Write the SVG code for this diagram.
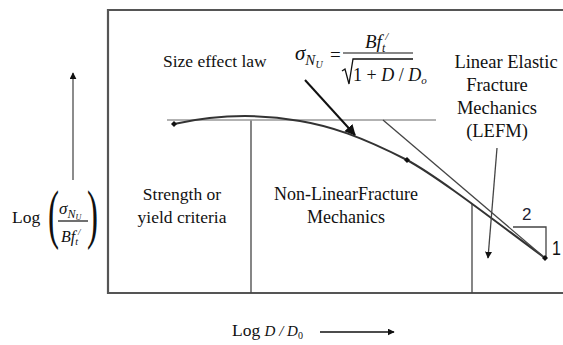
<svg xmlns="http://www.w3.org/2000/svg" width="563" height="345" viewBox="0 0 563 345">
<style>
.t{font-family:'Liberation Serif','Times New Roman',serif;fill:#111}
.s{font-size:17.5px}
.l{font-size:18.5px}
.m{font-family:'Liberation Serif','Times New Roman',serif;font-style:italic;fill:#111}
.n{font-style:normal}
.ln{stroke:#444;stroke-width:1.3;fill:none}
.frame{stroke:#555;stroke-width:2.2;fill:none}
</style>
<defs>
<marker id="ah" viewBox="0 0 10 10" refX="9" refY="5" markerWidth="7" markerHeight="7" orient="auto" markerUnits="userSpaceOnUse">
<path d="M0,0 L10,5 L0,10 z" fill="#111"/>
</marker>
<marker id="ah2" viewBox="0 0 10 10" refX="9" refY="5" markerWidth="11" markerHeight="11" orient="auto" markerUnits="userSpaceOnUse">
<path d="M0,0 L10,5 L0,10 z" fill="#111"/>
</marker>
<path id="dm" d="M0,-3 L3,0 L0,3 L-3,0 z" fill="#111"/>
</defs>

<g id="frame">
<path class="frame" d="M563,10 H108 V293 H563"/>
</g>

<g id="connectors">
<line x1="251" y1="120" x2="251" y2="293" class="ln"/>
<line x1="472" y1="204" x2="472" y2="293" class="ln"/>
<line x1="167" y1="120" x2="436" y2="120" stroke="#999" stroke-width="1.5"/>
<path d="M174,124 C210,116 250,112 300,121 C330,126 360,136 407,160 C440,178 500,225 545,258" stroke="#333" stroke-width="2" fill="none"/>
<line x1="383" y1="120" x2="545" y2="258" class="ln"/>
<path d="M513,227 H546 V258" class="ln"/>
<line x1="305" y1="80" x2="355" y2="135" stroke="#111" stroke-width="2" marker-end="url(#ah2)"/>
<line x1="497" y1="148" x2="488" y2="258" class="ln" marker-end="url(#ah)"/>
<line x1="73" y1="180" x2="73" y2="73" stroke="#666" stroke-width="1.5" marker-end="url(#ah)"/>
<line x1="320" y1="332" x2="394" y2="332" stroke="#111" stroke-width="1.5" marker-end="url(#ah)"/>
<use href="#dm" x="174" y="124"/>
<use href="#dm" x="407" y="160"/>
<use href="#dm" x="545" y="258"/>
</g>

<g id="size-effect">
<text class="t s" x="163" y="67">Size effect law</text>
</g>

<g id="formula">
<text class="m" x="295" y="60" font-size="21">σ<tspan font-size="15" dy="5">N</tspan><tspan font-size="10" dy="3">U</tspan></text>
<text class="t" x="330" y="61" font-size="19">=</text>
<text class="m" x="365" y="48" font-size="19">Bf<tspan font-size="12" dy="4">t</tspan><tspan font-size="11" dy="-12">/</tspan></text>
<line x1="343" y1="53" x2="413" y2="53" stroke="#111" stroke-width="1.2"/>
<path d="M342,71 L345,69 L349,84 L353,59 H413" stroke="#111" stroke-width="1.3" fill="none"/>
<text class="m" x="353" y="81" font-size="18"><tspan class="n">1 + </tspan>D<tspan class="n"> / </tspan>D<tspan font-size="11" dy="3">o</tspan></text>
</g>

<g id="lefm">
<text class="t l" text-anchor="middle" x="506" y="68">Linear Elastic</text>
<text class="t l" text-anchor="middle" x="497" y="91">Fracture</text>
<text class="t l" text-anchor="middle" x="497" y="114">Mechanics</text>
<text class="t l" text-anchor="middle" x="497" y="137">(LEFM)</text>
</g>

<g id="strength">
<text class="t s" text-anchor="middle" x="182" y="200">Strength or</text>
<text class="t s" text-anchor="middle" x="182" y="223">yield criteria</text>
</g>

<g id="nlfm">
<text class="t" font-size="18" text-anchor="middle" x="346" y="200">Non-LinearFracture</text>
<text class="t" font-size="18" text-anchor="middle" x="346" y="223">Mechanics</text>
</g>

<g id="slope-labels">
<text x="522" y="220" font-family="'Liberation Sans',Arial,sans-serif" font-size="17" fill="#223">2</text>
<text font-family="'Liberation Sans',Arial,sans-serif" font-size="20" fill="#111" transform="translate(552,255) scale(0.8,1)">1</text>
</g>

<g id="y-label">
<text class="t s" x="12" y="223">Log</text>
<text class="t" font-size="66" transform="translate(48,236) scale(0.5,1)">(</text>
<text class="t" font-size="66" transform="translate(87,236) scale(0.5,1)">)</text>
<text class="m" x="59" y="214" font-size="17">σ<tspan font-size="12" dy="4">N</tspan><tspan font-size="8" dy="2">U</tspan></text>
<line x1="58" y1="221" x2="88" y2="221" stroke="#111" stroke-width="1.2"/>
<text class="m" x="61" y="242" font-size="16">Bf<tspan font-size="10" dy="3">t</tspan><tspan font-size="9" dy="-10">/</tspan></text>
</g>

<g id="x-label">
<text class="t s" x="232" y="336">Log <tspan class="m" font-size="15">D</tspan><tspan font-size="15" font-style="italic"> / </tspan><tspan class="m" font-size="15">D</tspan><tspan font-size="10" dy="3">0</tspan></text>
</g>
</svg>
